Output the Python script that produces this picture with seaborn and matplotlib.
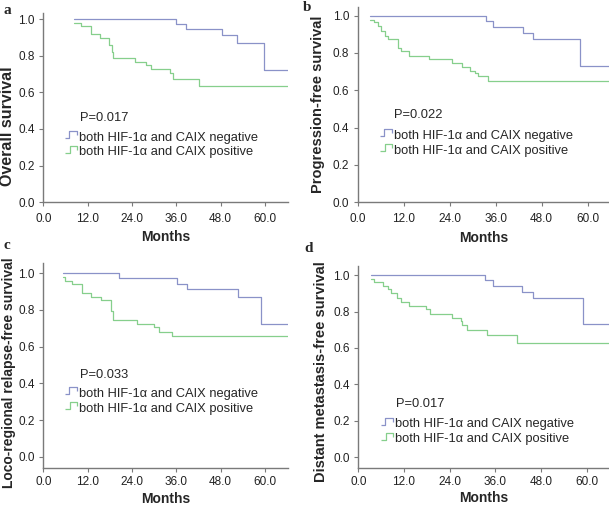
import pandas as pd
import matplotlib
matplotlib.use("Agg")
import matplotlib.pyplot as plt
import seaborn as sns
from matplotlib.lines import Line2D
from matplotlib.path import Path
from matplotlib.markers import MarkerStyle

# -----------------------------
# Data (months, cumulative survival)
# -----------------------------
a_neg_t = [8.4, 35.9, 38.6, 48.3, 52.4, 59.9, 66.2]
a_neg_s = [1.0, 0.972, 0.943, 0.912, 0.867, 0.722, 0.722]
a_pos_t = [8.4, 10.1, 12.8, 15.4, 17.8, 18.5, 19.0, 24.9, 27.7, 29.2, 34.4, 35.0, 42.2, 66.2]
a_pos_s = [0.98, 0.963, 0.921, 0.895, 0.858, 0.82, 0.789, 0.767, 0.747, 0.726, 0.708, 0.673, 0.634, 0.634]

b_neg_t = [3.3, 33.4, 35.4, 43.1, 45.8, 57.9, 65.6]
b_neg_s = [1.0, 0.972, 0.938, 0.906, 0.873, 0.728, 0.728]
b_pos_t = [3.3, 4.3, 5.4, 6.1, 7.0, 8.0, 10.5, 11.3, 13.5, 18.6, 24.7, 27.2, 29.3, 30.7, 31.3, 34.1, 65.6]
b_pos_s = [0.979, 0.965, 0.947, 0.918, 0.893, 0.874, 0.829, 0.808, 0.786, 0.769, 0.746, 0.724, 0.705, 0.691, 0.678, 0.648, 0.648]

c_neg_t = [5.4, 20.6, 36.3, 38.8, 52.8, 59.1, 66.2]
c_neg_s = [1.0, 0.971, 0.942, 0.911, 0.869, 0.724, 0.724]
c_pos_t = [5.4, 5.9, 7.9, 10.4, 12.8, 15.6, 18.3, 19.0, 25.3, 30.0, 31.4, 34.8, 66.2]
c_pos_s = [0.978, 0.958, 0.938, 0.893, 0.871, 0.853, 0.793, 0.747, 0.724, 0.704, 0.68, 0.656, 0.656]

d_neg_t = [3.3, 33.3, 35.3, 43.1, 45.8, 59.0, 65.9]
d_neg_s = [1.0, 0.973, 0.941, 0.910, 0.877, 0.731, 0.731]
d_pos_t = [3.3, 4.1, 6.6, 7.9, 8.6, 10.1, 11.2, 13.3, 17.7, 18.8, 24.5, 26.9, 27.2, 28.7, 33.9, 41.6, 65.9]
d_pos_s = [0.98, 0.961, 0.943, 0.925, 0.904, 0.873, 0.851, 0.831, 0.813, 0.789, 0.767, 0.749, 0.727, 0.699, 0.672, 0.630, 0.630]

letters = ["a", "b", "c", "d"]
ylabels = ["Overall survival", "Progression-free survival",
           "Loco-regional relapse-free survival", "Distant metastasis-free survival"]
pvalues = ["P=0.017", "P=0.022", "P=0.033", "P=0.017"]
groups = ["both HIF-1\u03b1 and CAIX negative", "both HIF-1\u03b1 and CAIX positive"]
xticks = [0, 12, 24, 36, 48, 60]
yticks = [0.0, 0.2, 0.4, 0.6, 0.8, 1.0]

BLUE = "#8a92c8"
GREEN = "#86cf8c"
GREY = "#7a7a7a"

sns.set_style("white")
plt.rcParams["font.family"] = ["Liberation Sans", "DejaVu Sans"]

W, H = 609, 505
fig = plt.figure(figsize=(W / 100, H / 100), dpi=100)

# pixel boxes (left, right, top, bottom) and limits for each panel
boxes = [(43.3, 287.7, 13.0, 202.3), (357.7, 609, 6.7, 202.3),
         (43.3, 287.7, 263.3, 468.3), (358.3, 609, 266.0, 468.3)]
xmaxs = [66.2, 65.6, 66.2, 65.9]
ylims = [(0, 1.033), (0, 1.048), (-0.062, 1.053), (-0.062, 1.051)]
# legend / p-value placement in data coords
p_pos = [(9.9, 0.46), (9.5, 0.468), (9.9, 0.447), (9.9, 0.29)]
leg_pos = [(5.9, 0.386), (5.8, 0.388), (5.9, 0.375), (5.96, 0.213)]
xlab_y = [-0.145, -0.145, -0.114, -0.114]
xpad = [5.0, 5.0, 2.5, 2.5]
ylab_size = [11.5, 10.5, 10.0, 10.5]
ylab_pos = [(-0.115, 0.403), (-0.13, 0.5), (-0.113, 0.467), (-0.121, 0.477)]
letter_pos = [(4, 4), (303, 1), (3, 239), (304, 242)]

neg_icon = MarkerStyle(Path([(-0.5, -0.15), (-0.2, -0.15), (-0.2, 0.4), (0.5, 0.4), (0.5, 0.1)]),
                       fillstyle="none")
pos_icon = MarkerStyle(Path([(-0.5, -0.2), (-0.1, -0.2), (-0.1, 0.4), (0.5, 0.4), (0.5, 0.05)]),
                       fillstyle="none")

curves = [(a_neg_t, a_neg_s, a_pos_t, a_pos_s), (b_neg_t, b_neg_s, b_pos_t, b_pos_s),
          (c_neg_t, c_neg_s, c_pos_t, c_pos_s), (d_neg_t, d_neg_s, d_pos_t, d_pos_s)]

for i, (nt, ns, pt, ps) in enumerate(curves):
    l, r, t, b = boxes[i]
    ax = fig.add_axes([l / W, 1 - b / H, (r - l) / W, (b - t) / H])

    df = pd.DataFrame({
        "Months": nt + pt,
        "surv": ns + ps,
        "group": [groups[0]] * len(nt) + [groups[1]] * len(pt),
    })
    sns.lineplot(data=df, x="Months", y="surv", hue="group", hue_order=groups,
                 palette=[BLUE, GREEN], drawstyle="steps-post", estimator=None,
                 legend=False, lw=0.9, ax=ax)

    ax.set_xlim(0, xmaxs[i])
    ax.set_ylim(*ylims[i])
    ax.set_xticks(xticks)
    ax.set_xticklabels([f"{v:.1f}" for v in xticks])
    ax.set_yticks(yticks)
    ax.set_yticklabels([f"{v:.1f}" for v in yticks])
    ax.tick_params(axis="both", direction="out", length=3, width=0.8, color=GREY,
                   labelsize=8.5, labelcolor="#222222", left=True, bottom=True)
    ax.tick_params(axis="x", pad=xpad[i])
    ax.tick_params(axis="y", pad=3)
    for side in ["top", "right"]:
        ax.spines[side].set_visible(False)
    for side in ["left", "bottom"]:
        ax.spines[side].set_color(GREY)
        ax.spines[side].set_linewidth(1.0)

    ax.set_xlabel("Months", fontsize=10, fontweight="bold")
    ax.set_ylabel(ylabels[i], fontsize=ylab_size[i], fontweight="bold")
    ax.xaxis.set_label_coords(0.5, xlab_y[i])
    ax.yaxis.set_label_coords(*ylab_pos[i])

    ax.text(p_pos[i][0], p_pos[i][1], pvalues[i], fontsize=9.3, va="center", ha="left")
    handles = [
        Line2D([], [], color=BLUE, marker=neg_icon, markerfacecolor="none", markersize=8.3,
               markeredgewidth=0.9, linestyle="none"),
        Line2D([], [], color=GREEN, marker=pos_icon, markerfacecolor="none", markersize=8.3,
               markeredgewidth=0.9, linestyle="none"),
    ]
    ax.legend(handles, groups, loc="upper left", bbox_to_anchor=leg_pos[i],
              bbox_transform=ax.transData, frameon=False, fontsize=9.3,
              borderpad=0, borderaxespad=0, handlelength=0.9, handletextpad=0.2,
              labelspacing=0.22)

    fig.text(letter_pos[i][0] / W, 1 - letter_pos[i][1] / H, letters[i],
             family="Liberation Serif", fontweight="bold", fontsize=11, va="top", ha="left")

fig.savefig("out.png", dpi=100)
